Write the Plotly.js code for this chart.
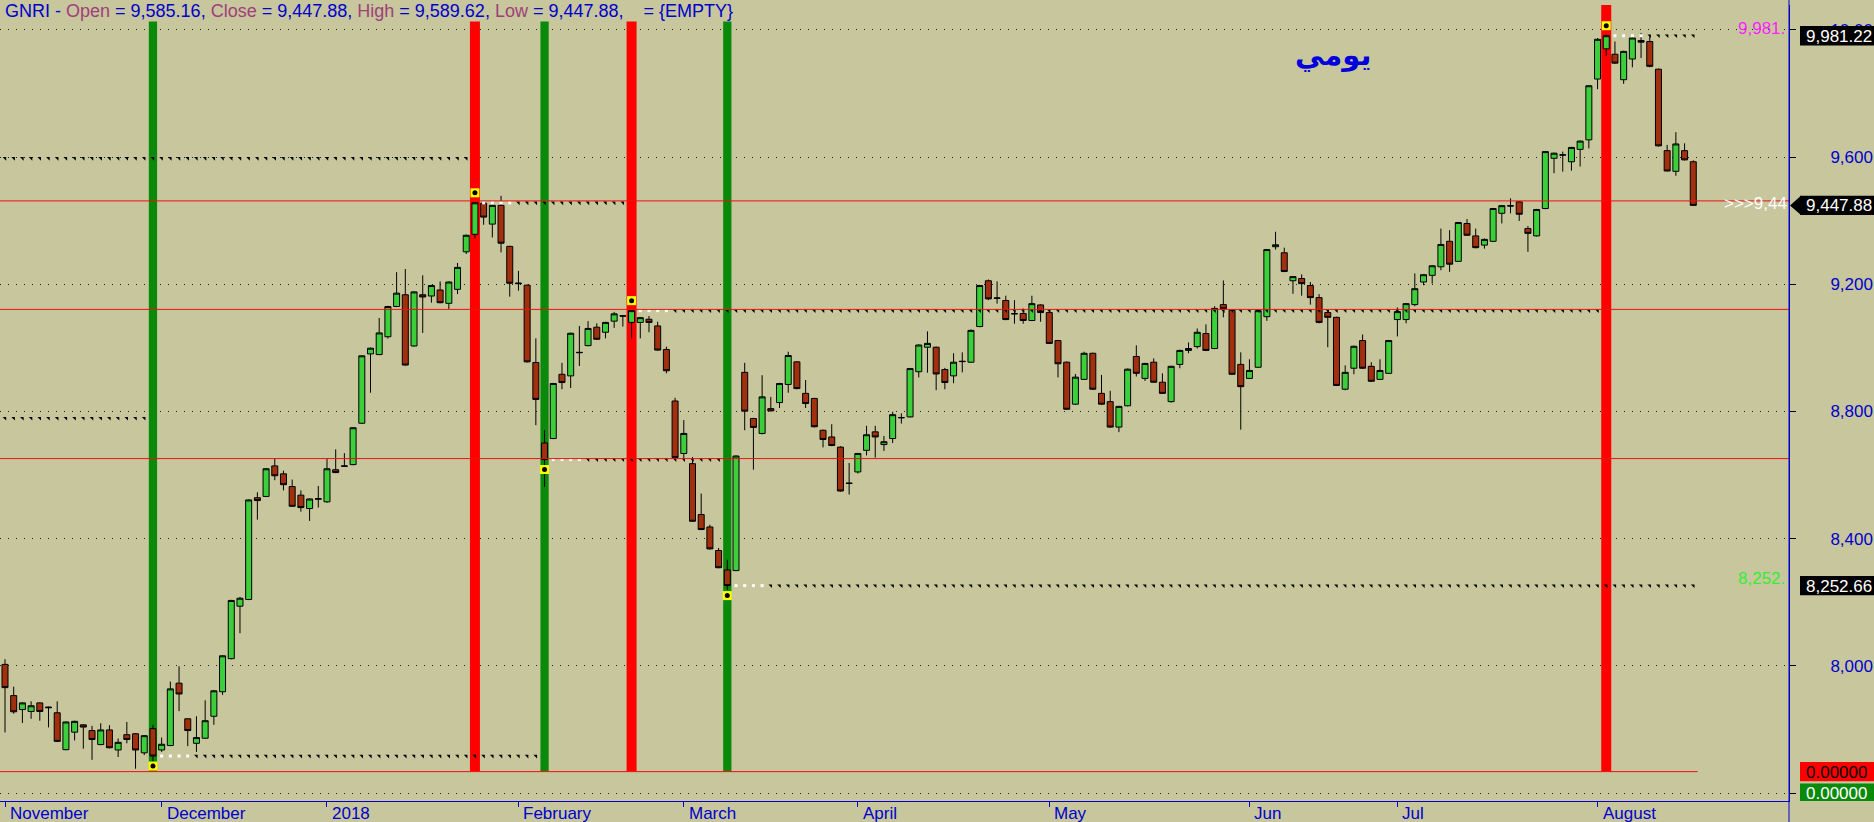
<!DOCTYPE html>
<html><head><meta charset="utf-8">
<script src="https://cdn.plot.ly/plotly-3.0.1.min.js"></script>
<style>html,body{margin:0;padding:0;background:#c7c69d;} #chart{width:1874px;height:822px;}</style>
</head><body><div id="chart"></div>
<script>
const symbolName = 'GNRI';
const opens = [
8005,7907,7863,7857,7884,7871,7853,7737,7792,7815,
7797,7753,7799,7736,7784,7787,7727,7803,7736,7750,
7946,7834,7757,7773,7842,7919,8023,8188,8209,8529,
8533,8629,8604,8564,8537,8495,8524,8516,8617,8629,
8633,8763,8981,8979,9035,9130,9167,9006,9167,9163,
9182,9140,9184,9302,9357,9455,9389,9448,9319,9204,
9197,8954,8701,8715,8917,8912,8986,9007,9065,9049,
9084,9101,9080,9080,9090,9069,8995,8833,8668,8636,
8476,8437,8363,8302,8300,8923,8778,8731,8809,8828,
8885,8956,8857,8841,8741,8720,8688,8575,8610,8678,
8736,8696,8715,8780,8783,8925,9002,9002,8932,8912,
8958,8955,9067,9211,9157,9149,9108,9108,9086,9135,
9111,9023,8955,8823,8901,8983,8857,8831,8751,8818,
8973,8904,8955,8892,8831,8948,8992,9004,9045,8998,
9136,9118,8948,8904,8939,9098,9318,9299,9211,9218,
9196,9158,9111,9096,8870,8936,9023,8942,8901,8920,
9089,9089,9136,9207,9228,9255,9335,9272,9391,9352,
9323,9335,9423,9447,9459,9375,9352,9438,9596,9607,
9585,9624,9654,9845,9940,9923,9843,9908,9966,9963,
9876,9620,9555,9620,9585.16];
const highs = [
8021,7935,7886,7889,7886,7872,7889,7826,7828,7816,
7812,7820,7814,7772,7824,7789,7783,7815,7775,7951,
7999,7836,7842,7892,7924,8034,8208,8217,8524,8546,
8622,8651,8614,8586,8552,8527,8566,8651,8681,8669,
8751,8977,9001,9094,9132,9238,9248,9178,9228,9198,
9209,9209,9267,9356,9458,9460,9450,9478,9321,9242,
9199,9030,8741,8890,8953,9048,9069,9084,9077,9082,
9113,9103,9121,9097,9100,9082,9004,8843,8773,8657,
8542,8444,8371,8334,8662,8953,8780,8914,8846,8890,
8988,8958,8899,8843,8743,8760,8691,8638,8670,8755,
8755,8723,8799,8794,8937,9011,9052,9004,8937,8983,
8986,9058,9198,9215,9209,9164,9150,9124,9164,9137,
9118,9025,8957,8918,8988,8985,8915,8865,8818,8935,
9008,8953,8967,8920,8944,8994,9017,9061,9074,9131,
9212,9120,8986,8964,9119,9311,9365,9315,9226,9231,
9207,9169,9118,9098,8945,9007,9042,8955,8964,9025,
9127,9141,9234,9232,9260,9375,9370,9396,9405,9375,
9344,9440,9449,9470,9461,9383,9437,9619,9614,9617,
9632,9652,9826,9974,9984,9963,9934,9976,9990,9979,
9878,9638,9678,9643,9589.62];
const lows = [
7791,7850,7821,7834,7828,7807,7761,7735,7766,7740,
7705,7751,7741,7714,7757,7677,7720,7699,7730,7748,
7858,7748,7730,7771,7815,7909,8021,8103,8207,8460,
8531,8584,8552,8500,8485,8456,8498,8513,8606,8627,
8631,8761,8859,8977,9029,9128,8944,9004,9047,9142,
9140,9122,9169,9295,9344,9387,9347,9300,9161,9180,
8954,8757,8563,8713,8870,8874,8943,9005,9025,9030,
9063,9067,9030,9030,9049,8991,8920,8653,8647,8453,
8427,8366,8307,8239,8298,8741,8617,8728,8800,8811,
8859,8870,8811,8750,8687,8691,8548,8539,8605,8662,
8655,8676,8701,8762,8781,8907,8922,8867,8870,8889,
8923,8953,9065,9150,9139,9087,9076,9076,9084,9082,
9012,8907,8805,8821,8899,8868,8821,8749,8735,8816,
8910,8896,8890,8855,8828,8936,8983,8998,8990,8996,
9096,8915,8743,8902,8937,9085,9309,9238,9170,9164,
9136,9077,9002,8880,8867,8917,8934,8893,8899,8918,
9036,9077,9131,9197,9202,9244,9239,9270,9352,9313,
9312,9333,9391,9423,9399,9302,9350,9436,9549,9554,
9557,9570,9627,9813,9918,9893,9830,9882,9911,9882,
9633,9555,9541,9589,9447.88];
const closes = [
7932,7856,7884,7875,7857,7869,7763,7824,7826,7808,
7769,7799,7743,7760,7769,7736,7781,7717,7754,7928,
7912,7797,7775,7828,7922,8032,8206,8213,8522,8520,
8620,8598,8570,8502,8498,8525,8526,8620,8608,8628,
8749,8975,8999,9047,9130,9172,8946,9176,9160,9196,
9142,9207,9253,9354,9456,9411,9448,9329,9203,9202,
8956,8838,8649,8888,8891,9046,8985,9061,9027,9080,
9107,9100,9117,9095,9080,8993,8928,8655,8731,8455,
8429,8368,8309,8252.66,8660,8801,8750,8846,8802,8888,
8976,8872,8825,8752,8712,8693,8550,8574,8668,8727,
8720,8705,8790,8781,8935,9009,9014,8918,8891,8955,
8957,9055,9196,9154,9156,9089,9107,9086,9139,9111,
9014,8950,8807,8908,8983,8870,8823,8751,8816,8933,
8920,8951,8892,8857,8942,8992,8998,9049,8992,9124,
9123,8917,8878,8929,9117,9309,9324,9240,9224,9202,
9158,9080,9096,8882,8923,9005,8936,8895,8929,9023,
9114,9139,9186,9230,9258,9325,9263,9394,9354,9315,
9341,9438,9447,9446,9420,9360,9435,9617,9612,9606,
9630,9650,9824,9970,9981.22,9895,9932,9974,9961,9885,
9635,9556,9641,9591,9447.88];

const monthTickIdx = [0, 18, 37, 59, 78, 98, 120, 143, 160, 183];
const monthLabels = ['November', 'December', '2018', 'February', 'March', 'April', 'May', 'Jun', 'Jul', 'August'];
const greenSignals = [17, 62, 83];
const redSignals = [54, 72, 184];
const priorGreenLevel = 8779;
const priorRedLevel = 9596;
const redLevels = [9462, 9121, 8652];
const floorLevel = 7668;
const yTickVals = [7600, 8000, 8400, 8800, 9200, 9600, 10000];
const indicatorValues = [0, 0];
const periodLabel = 'يومي';

const BG = '#c7c69d';
const BLUE = '#0000cc';
const FONT = 'Liberation Sans, Arial, sans-serif';
const X_RANGE = [-0.5745, 205.0];
const Y_RANGE = [7575.6, 10077.8];
const n = closes.length;
const idx = closes.map((_, i) => i);
const PX_TO_Y = (Y_RANGE[1] - Y_RANGE[0]) / 796;

function fmt(v, d) {
  const s = v.toFixed(d);
  const parts = s.split('.');
  return parts[0].replace(/\B(?=(\d{3})+(?!\d))/g, ',') + (parts[1] ? '.' + parts[1] : '');
}

function signalLines(signals, priorLevel) {
  const white = {x: [], y: []}, black = {x: [], y: []};
  for (let i = 0; i < signals[0]; i++) { black.x.push(i); black.y.push(priorLevel); }
  signals.forEach((s, k) => {
    const end = k + 1 < signals.length ? signals[k + 1] - 1 : n - 1;
    for (let i = s + 1; i <= end; i++) {
      const t = (i - s <= 4) ? white : black;
      t.x.push(i); t.y.push(closes[s]);
    }
  });
  return {white, black};
}
const gl = signalLines(greenSignals, priorGreenLevel);
const rl = signalLines(redSignals, priorRedLevel);

const traces = [];
traces.push({type: 'scatter', mode: 'markers', x: gl.black.x.concat(rl.black.x), y: gl.black.y.concat(rl.black.y),
  marker: {symbol: 'triangle-ne', size: 4, color: '#000', line: {width: 0}}, hoverinfo: 'skip'});
traces.push({type: 'scatter', mode: 'markers', x: gl.white.x.concat(rl.white.x), y: gl.white.y.concat(rl.white.y),
  marker: {symbol: 'square', size: 3, color: '#fff', line: {width: 0}}, hoverinfo: 'skip'});
const sigX = greenSignals.concat(redSignals);
traces.push({type: 'bar', x: sigX, base: floorLevel, y: sigX.map(() => Y_RANGE[1] + 200 - floorLevel),
  width: greenSignals.map(() => 0.95).concat(redSignals.map(() => 1.15)),
  marker: {color: greenSignals.map(() => '#0a8a0a').concat(redSignals.map(() => '#ff0000')), line: {width: 0}},
  hoverinfo: 'skip'});
redLevels.forEach(lv => {
  traces.push({type: 'scatter', mode: 'lines', x: [X_RANGE[0], X_RANGE[1]], y: [lv, lv],
    line: {color: '#ee1111', width: 1}, hoverinfo: 'skip'});
});
traces.push({type: 'scatter', mode: 'lines', x: [X_RANGE[0], n - 0.5], y: [floorLevel, floorLevel],
  line: {color: '#ee1111', width: 1}, hoverinfo: 'skip'});
traces.push({type: 'candlestick', x: idx, open: opens, high: highs, low: lows, close: closes,
  increasing: {line: {color: '#000', width: 1}, fillcolor: '#3ccf3c'},
  decreasing: {line: {color: '#000', width: 1}, fillcolor: '#a2300e'},
  whiskerwidth: 0, hoverinfo: 'skip'});
const mX = greenSignals.concat(redSignals);
const mY = greenSignals.map(s => closes[s] - 10 * PX_TO_Y).concat(redSignals.map(s => closes[s] + 10 * PX_TO_Y));
traces.push({type: 'scatter', mode: 'markers', x: mX, y: mY, marker: {symbol: 'square', size: 9, color: '#ffff00', line: {width: 0}}, hoverinfo: 'skip'});
traces.push({type: 'scatter', mode: 'markers', x: mX, y: mY, marker: {symbol: 'circle', size: 5, color: '#000', line: {width: 0}}, hoverinfo: 'skip'});

const last = n - 1;
const lastRed = closes[redSignals[redSignals.length - 1]];
const lastGreen = closes[greenSignals[greenSignals.length - 1]];
const C = s => `<span style="color:${BLUE}">${s}</span>`;
const M = s => `<span style="color:#a0407a">${s}</span>`;
const titleText = C(symbolName + ' - ') + M('Open') + C(' = ' + fmt(opens[last], 2) + ', ') + M('Close') +
  C(' = ' + fmt(closes[last], 2) + ', ') + M('High') + C(' = ' + fmt(highs[last], 2) + ', ') + M('Low') +
  C(' = ' + fmt(lows[last], 2) + ',\u00a0\u00a0\u00a0 = {EMPTY}');

const PX = p => p / 1789;
const annotations = [];
annotations.push({xref: 'paper', yref: 'paper', x: 0, y: 1, xanchor: 'left', yanchor: 'top', xshift: 4, yshift: 5,
  text: titleText, showarrow: false, bgcolor: BG, borderpad: 0, font: {family: FONT, size: 18, color: BLUE}});
annotations.push({xref: 'paper', yref: 'paper', x: PX(1333), y: (801 - 55) / 796, xanchor: 'center', yanchor: 'middle',
  text: '<b>' + periodLabel + '</b>', showarrow: false, font: {family: 'DejaVu Sans, Noto Sans', size: 29, color: '#0000dd', weight: 'bold'}});
monthTickIdx.forEach((t, k) => {
  annotations.push({xref: 'x', yref: 'paper', x: t, y: 0, xanchor: 'left', yanchor: 'top', xshift: 3, yshift: -1,
    text: monthLabels[k], showarrow: false, font: {family: FONT, size: 17, color: BLUE}});
});
annotations.push({xref: 'paper', yref: 'y', x: 1, y: lastRed, xanchor: 'right', yshift: 7, xshift: -2,
  text: fmt(Math.floor(lastRed), 0) + '.', showarrow: false, font: {family: FONT, size: 17, color: '#ff22ff'}});
annotations.push({xref: 'paper', yref: 'y', x: 1, y: lastGreen, xanchor: 'right', yshift: 7, xshift: -2,
  text: fmt(Math.floor(lastGreen), 0) + '.', showarrow: false, font: {family: FONT, size: 17, color: '#33ee33'}});
annotations.push({xref: 'paper', yref: 'y', x: 1, y: closes[last], xanchor: 'right', yshift: 2, xshift: 0,
  text: '>>>' + fmt(closes[last], 2).slice(0, 4), showarrow: false, font: {family: FONT, size: 17, color: '#ffffff'}});
const boxes = [
  {v: lastRed, text: fmt(lastRed, 2), bg: '#000', fg: '#fff'},
  {v: closes[last], text: fmt(closes[last], 2), bg: '#000', fg: '#fff', arrow: true},
  {v: lastGreen, text: fmt(lastGreen, 2), bg: '#000', fg: '#fff'},
  {v: floorLevel, text: indicatorValues[0].toFixed(5), bg: '#ff0000', fg: '#000'},
  {v: yTickVals[0], text: indicatorValues[1].toFixed(5), bg: '#0a8a0a', fg: '#fff'}
];
const shapes = [];
const H = 9.7 * PX_TO_Y;
boxes.forEach(b => {
  shapes.push({type: 'rect', xref: 'paper', yref: 'y', x0: PX(1800), x1: PX(1880), y0: b.v - H, y1: b.v + H,
    fillcolor: b.bg, line: {width: 0}, layer: 'above'});
  if (b.arrow) {
    shapes.push({type: 'path', xref: 'paper', yref: 'y', path: `M ${PX(1790)},${b.v} L ${PX(1801)},${b.v + H} L ${PX(1801)},${b.v - H} Z`,
      fillcolor: b.bg, line: {width: 0}, layer: 'above'});
  }
  annotations.push({xref: 'paper', yref: 'y', x: PX(1805), y: b.v, xanchor: 'left', yanchor: 'middle',
    text: b.text, showarrow: false, borderpad: 0, height: 18, font: {family: FONT, size: 17, color: b.fg}});
});
shapes.push({type: 'line', xref: 'paper', yref: 'paper', x0: 1, x1: 1, y0: -21 / 796, y1: 1 + 5 / 796,
  line: {color: BLUE, width: 1}, layer: 'above'});

const layout = {
  width: 1874, height: 822,
  margin: {l: 0, r: 85, t: 5, b: 21, pad: 0},
  paper_bgcolor: BG, plot_bgcolor: BG,
  showlegend: false, hovermode: false,
  boxgap: 0.31, boxgroupgap: 0,
  xaxis: {range: X_RANGE, showgrid: false, zeroline: false, showline: true, linecolor: BLUE, linewidth: 1,
    ticks: 'outside', ticklen: 5, tickcolor: BLUE, tickvals: monthTickIdx, showticklabels: false,
    rangeslider: {visible: false}, fixedrange: true},
  yaxis: {side: 'right', range: Y_RANGE, tickvals: yTickVals, tickformat: ',d', showgrid: true,
    gridcolor: '#222', griddash: '1px,7px', gridwidth: 1, zeroline: false, showline: true, linecolor: BLUE,
    ticks: 'outside', ticklen: 6, tickcolor: '#000', ticklabelstandoff: 31,
    tickfont: {family: FONT, size: 17, color: BLUE}, fixedrange: true},
  annotations: annotations, shapes: shapes
};
Plotly.newPlot('chart', traces, layout, {staticPlot: true, displayModeBar: false});
</script>
</body></html>
